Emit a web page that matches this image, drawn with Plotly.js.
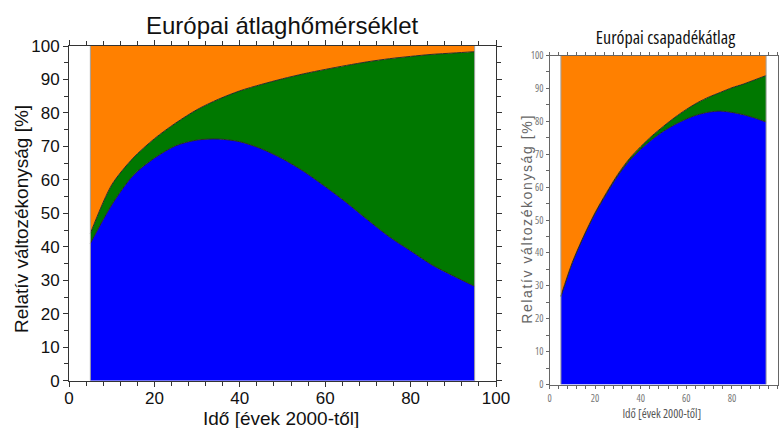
<!DOCTYPE html>
<html>
<head>
<meta charset="utf-8">
<script src="https://cdn.plot.ly/plotly-3.0.1.min.js"></script>
<style>
html,body{margin:0;padding:0;background:#fff;}
#chart{width:779px;height:428px;}
#chart .x2tick text, #chart .y2tick text,
#chart .annotation[data-index="1"] text, #chart .annotation[data-index="5"] text { font-stretch: condensed; }
#chart .annotation[data-index="4"] text { letter-spacing: 1.6px; }
</style>
</head>
<body>
<div id="chart"></div>
<script>
// Years since 2000
const years = [5,10,15,20,25,30,35,40,45,50,55,60,65,70,75,80,85,90,95];

// European mean temperature: cumulative boundaries [%]
const tempBlueTop  = [41,52.5,61.3,66.5,70.2,71.9,72.2,71.4,69.3,66.3,62.5,58,53.2,48,43,38.8,34.6,31.3,28.2];
const tempGreenTop = [44,58.5,66.5,72.3,77,81,84.1,86.6,88.5,90.2,91.7,93,94.2,95.3,96.2,96.9,97.5,97.9,98.3];
const tempOrangeTop = [100,100,100,100,100,100,100,100,100,100,100,100,100,100,100,100,100,100,100];

// European mean precipitation: cumulative boundaries [%]
const precBlueTop  = [26.7,37,45,52,58,63.5,68,71.5,74.5,77,79,80.7,82,82.8,83.1,82.7,82,81,79.8];
const precGreenTop = [26.9,37.1,45.1,52.2,58.3,63.9,68.6,72.3,75.6,78.5,81.2,83.6,85.7,87.4,88.8,90.2,91.3,92.6,93.9];
const precOrangeTop = [100,100,100,100,100,100,100,100,100,100,100,100,100,100,100,100,100,100,100];

const xTicks = [0,20,40,60,80,100];
const yTicks = [0,10,20,30,40,50,60,70,80,90,100];

const BLUE = '#0000ff', GREEN = '#007800', ORANGE = '#ff8000';
const EDGE = {color:'#2a2a2a', width:1, shape:'spline', smoothing:0.8};

function stack(xa, ya, blue, green, orange){
  return [
    {x:years, y:blue, xaxis:xa, yaxis:ya, type:'scatter', mode:'lines', fill:'tozeroy', fillcolor:BLUE, line:EDGE, hoverinfo:'skip'},
    {x:years, y:green, xaxis:xa, yaxis:ya, type:'scatter', mode:'lines', fill:'tonexty', fillcolor:GREEN, line:EDGE, hoverinfo:'skip'},
    {x:years, y:orange, xaxis:xa, yaxis:ya, type:'scatter', mode:'lines', fill:'tonexty', fillcolor:ORANGE, line:{width:0}, hoverinfo:'skip'},
    {x:[years[0],years[0],null,years[years.length-1],years[years.length-1]], y:[0,orange[0],null,0,orange[orange.length-1]], xaxis:xa, yaxis:ya, type:'scatter', mode:'lines', line:{color:'#a0a0a0', width:1}, hoverinfo:'skip'}
  ];
}

const data = [].concat(
  stack('x','y', tempBlueTop, tempGreenTop, tempOrangeTop),
  stack('x2','y2', precBlueTop, precGreenTop, precOrangeTop)
);

const W = 779, H = 428;
const bigFont = 'Liberation Sans, Arial, sans-serif';
const narrowFont = 'Open Sans, sans-serif';

function axis(domain, tickvals, minorD, opts){
  return Object.assign({
    domain: domain, range:[0,100], tickvals: tickvals, ticktext: tickvals.map(String),
    ticks:'outside', ticklen:5, tickwidth:1, tickcolor:'#333',
    showline:true, linecolor:'#333', linewidth:1, mirror:'allticks',
    showgrid:false, zeroline:false, fixedrange:true, automargin:false,
    minor:{dtick:minorD, ticks:'outside', ticklen:4, tickcolor:'#333', showgrid:false}
  }, opts);
}

const layout = {
  width:W, height:H,
  margin:{l:0,r:0,t:0,b:0},
  paper_bgcolor:'#fff', plot_bgcolor:'#fff',
  showlegend:false,
  xaxis: axis([69/W, 496/W], xTicks, 4, {anchor:'y', tickfont:{family:bigFont, size:17, color:'#111'}, ticklabelstandoff:-3}),
  yaxis: axis([(H-380.7)/H, (H-46)/H], yTicks, 5, {anchor:'x', tickfont:{family:bigFont, size:17, color:'#111'}}),
  xaxis2: axis([549.5/W, 777.5/W], xTicks, 4, {anchor:'y2', tickfont:{family:narrowFont, size:10, color:'#777'}, ticklen:3, tickcolor:'#666', linecolor:'#666', ticklabelstandoff:1,
    minor:{dtick:4, ticks:'outside', ticklen:3, tickcolor:'#666', showgrid:false}}),
  yaxis2: axis([(H-384.5)/H, (H-55.5)/H], yTicks, 5, {anchor:'x2', tickfont:{family:narrowFont, size:10, color:'#777'}, ticklen:3, tickcolor:'#666', linecolor:'#666', ticklabelstandoff:0,
    minor:{dtick:5, ticks:'outside', ticklen:3, tickcolor:'#666', showgrid:false}}),
  annotations:[
    {text:'Európai átlaghőmérséklet', xref:'paper', yref:'paper', x:282/W, y:(H-26)/H, xanchor:'center', yanchor:'middle', showarrow:false,
      font:{family:bigFont, size:24, color:'#111'}},
    {text:'Európai csapadékátlag', xref:'paper', yref:'paper', x:665/W, y:(H-37)/H, xanchor:'center', yanchor:'middle', showarrow:false,
      font:{family:narrowFont, size:18, color:'#111'}},
    {text:'Idő [évek 2000-től]', xref:'paper', yref:'paper', x:281/W, y:(H-418)/H, xanchor:'center', yanchor:'middle', showarrow:false,
      font:{family:bigFont, size:19, color:'#111'}},
    {text:'Relatív változékonyság [%]', xref:'paper', yref:'paper', x:21/W, y:(H-219)/H, xanchor:'center', yanchor:'middle', showarrow:false, textangle:-90,
      font:{family:bigFont, size:19, color:'#111'}},
    {text:'Relatív változékonyság [%]', xref:'paper', yref:'paper', x:527/W, y:(H-219)/H, xanchor:'center', yanchor:'middle', showarrow:false, textangle:-90,
      font:{family:bigFont, size:14, color:'#666'}},
    {text:'Idő [évek 2000-től]', xref:'paper', yref:'paper', x:662/W, y:(H-413)/H, xanchor:'center', yanchor:'middle', showarrow:false,
      font:{family:narrowFont, size:12, color:'#555'}}
  ]
};

Plotly.newPlot('chart', data, layout, {staticPlot:true, displayModeBar:false});
</script>
</body>
</html>
